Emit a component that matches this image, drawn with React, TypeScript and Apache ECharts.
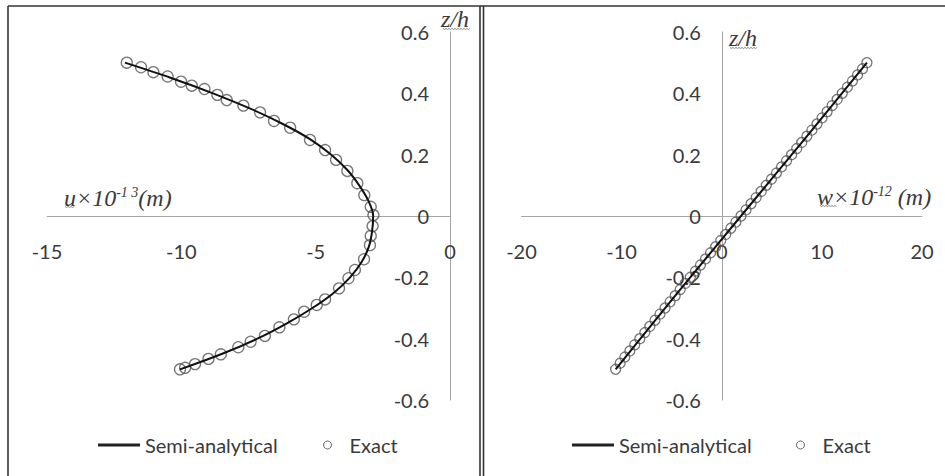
import { useEffect, useRef } from "react";
import * as echarts from "echarts";

// Left panel: in-plane displacement u (×10^-13 m) through the thickness z/h
const uExact = [
  -12.03, -11.5, -11.04, -10.51, -10.01, -9.61, -9.14, -8.66, -8.31, -7.69, -7.07,
  -6.55, -5.95, -5.21, -4.65, -4.24, -3.82, -3.45, -3.19, -2.95, -2.85, -2.88,
  -2.95, -2.98, -3.2, -3.54, -3.78, -4.13, -4.65, -4.96, -5.43, -5.81, -6.35,
  -6.89, -7.42, -7.88, -8.53, -8.99, -9.49, -9.86, -10.05,
];
const zExactU = [
  0.5, 0.485, 0.469, 0.455, 0.438, 0.425, 0.414, 0.395, 0.378, 0.36, 0.338,
  0.31, 0.288, 0.248, 0.215, 0.183, 0.147, 0.107, 0.068, 0.03, 0.003, -0.033,
  -0.065, -0.095, -0.141, -0.176, -0.203, -0.236, -0.272, -0.29, -0.312, -0.337, -0.363,
  -0.391, -0.41, -0.428, -0.451, -0.466, -0.483, -0.495, -0.5,
];
const zLine = [
  0.5, 0.45, 0.4, 0.35, 0.3, 0.25, 0.2, 0.15, 0.1, 0.05, 0,
  -0.05, -0.1, -0.15, -0.2, -0.25, -0.3, -0.35, -0.4, -0.45, -0.5,
];
const uSemi = [
  -12.1, -10.38, -8.82, -7.43, -6.22, -5.2, -4.42, -3.82, -3.38, -3.04, -2.86,
  -2.9, -3.02, -3.29, -3.72, -4.32, -5.12, -6.07, -7.17, -8.5, -10.05,
];

// Right panel: transverse displacement w (×10^-12 m)
const zExactW = [
  -0.5, -0.48, -0.46, -0.44, -0.42, -0.4, -0.38, -0.36, -0.34, -0.32, -0.3,
  -0.28, -0.26, -0.24, -0.22, -0.2, -0.18, -0.16, -0.14, -0.12, -0.1, -0.08,
  -0.06, -0.04, -0.02, 0, 0.02, 0.04, 0.06, 0.08, 0.1, 0.12, 0.14, 0.16, 0.18,
  0.2, 0.22, 0.24, 0.26, 0.28, 0.3, 0.32, 0.34, 0.36, 0.38, 0.4, 0.42, 0.44,
  0.46, 0.48, 0.5,
];
const wExact = [
  -10.6, -10.15, -9.68, -9.18, -8.69, -8.18, -7.68, -7.18, -6.67, -6.17, -5.66,
  -5.16, -4.65, -4.15, -3.64, -3.14, -2.63, -2.13, -1.62, -1.12, -0.61, -0.1,
  0.4, 0.91, 1.41, 1.92, 2.43, 2.93, 3.44, 3.94, 4.45, 4.96, 5.46, 5.97, 6.47,
  6.98, 7.49, 7.99, 8.5, 9.0, 9.51, 10.02, 10.52, 11.03, 11.53, 12.04, 12.55,
  13.05, 13.56, 14.06, 14.5,
];
const zLineW = [-0.5, -0.25, 0, 0.25, 0.5];
const wSemi = [-10.6, -4.4, 1.92, 8.25, 14.5];

const uTicks = { min: -15, max: 0, interval: 5 };
const wTicks = { min: -20, max: 20, interval: 10 };
const zTicks = { min: -0.6, max: 0.6, interval: 0.2 };

const AXIS_COLOR = "#a6a6a6";
const LABEL_COLOR = "#3a3a3a";
const FRAME_COLOR = "#333333";
const SANS = "Lato, 'Open Sans', sans-serif";
const SERIF = "'Liberation Serif', 'Times New Roman', serif";
const LABEL_SIZE = 20;

// plot boxes (px)
const GRID_TOP = 32;
const GRID_H = 368;
const LEFT_GRID = { left: 47, width: 403 };
const RIGHT_GRID = { left: 521.5, width: 400.5 };

const pairs = (xs: number[], ys: number[]) => xs.map((x, i) => [x, ys[i]]);

// spell-check style squiggle under a word
function squiggle(x0: number, x1: number, y: number) {
  const pts: number[][] = [];
  let i = 0;
  for (let x = x0; x <= x1; x += 1.5, i++) pts.push([x, y + (i % 2 ? 1 : -1)]);
  return {
    type: "polyline",
    silent: true,
    shape: { points: pts },
    style: { stroke: "#8c8c8c", lineWidth: 0.8, fill: null },
  };
}

// x axis drawn through z = 0 (middle of the plot box)
function xAxisOpt(gridIndex: number, t: { min: number; max: number; interval: number }) {
  const zeroFromBottom =
    (GRID_H * (0 - zTicks.min)) / (zTicks.max - zTicks.min);
  return {
    type: "value",
    gridIndex,
    position: "bottom",
    offset: -zeroFromBottom,
    min: t.min,
    max: t.max,
    interval: t.interval,
    axisLine: { onZero: false, lineStyle: { color: AXIS_COLOR, width: 1 } },
    axisTick: { show: false },
    splitLine: { show: false },
    axisLabel: { margin: 25, fontSize: LABEL_SIZE, color: LABEL_COLOR, fontFamily: SANS },
  };
}

// y axis drawn through x = 0 of its panel
function yAxisOpt(gridIndex: number, t: { min: number; max: number }, width: number) {
  const zeroFromLeft = (width * (0 - t.min)) / (t.max - t.min);
  return {
    type: "value",
    gridIndex,
    position: "left",
    offset: -zeroFromLeft,
    min: zTicks.min,
    max: zTicks.max,
    interval: zTicks.interval,
    axisLine: { onZero: false, lineStyle: { color: AXIS_COLOR, width: 1 } },
    axisTick: { show: false },
    splitLine: { show: false },
    axisLabel: {
      margin: 21,
      fontSize: LABEL_SIZE,
      color: LABEL_COLOR,
      fontFamily: SANS,
      formatter: (v: number) => String(Math.round(v * 10) / 10),
    },
  };
}

function lineSeries(idx: number, data: number[][]) {
  return {
    name: "Semi-analytical",
    type: "line",
    xAxisIndex: idx,
    yAxisIndex: idx,
    data,
    symbol: "none",
    smooth: 0.35,
    lineStyle: { color: "#111111", width: 2 },
    itemStyle: { color: "#111111" },
    z: 3,
  };
}

function exactSeries(idx: number, data: number[][], size: number) {
  return {
    name: "Exact",
    type: "scatter",
    xAxisIndex: idx,
    yAxisIndex: idx,
    data,
    symbol: "circle",
    symbolSize: size,
    itemStyle: { color: "rgba(0,0,0,0)", borderColor: "#555555", borderWidth: 1.3 },
    z: 2,
  };
}

function legendPair(lineLeft: number, circleLeft: number) {
  const textStyle = { fontSize: LABEL_SIZE, color: LABEL_COLOR, fontFamily: SANS };
  return [
    {
      data: [{ name: "Semi-analytical", icon: "rect" }],
      left: lineLeft,
      top: 435,
      padding: 0,
      itemWidth: 42,
      itemHeight: 3,
      selectedMode: false,
      itemStyle: { color: "#222222" },
      textStyle,
    },
    {
      data: [{ name: "Exact", icon: "circle" }],
      left: circleLeft,
      top: 435,
      padding: 0,
      itemWidth: 8,
      itemHeight: 8,
      selectedMode: false,
      itemStyle: { color: "rgba(0,0,0,0)", borderColor: "#444444", borderWidth: 1 },
      textStyle: { ...textStyle, padding: [0, 0, 0, 13] },
    },
  ];
}

function titleText(x: number, y: number, main: string, sup: string, tail: string) {
  return {
    type: "text",
    x,
    y,
    silent: true,
    style: {
      text: `{b|${main}}{s|${sup}}{b|${tail}}`,
      rich: {
        b: { fontSize: 24, lineHeight: 26, fontStyle: "italic", fontFamily: SERIF, fill: "#3a3a3a" },
        s: { fontSize: 14, lineHeight: 15, fontStyle: "italic", fontFamily: SERIF, fill: "#3a3a3a", verticalAlign: "top" },
      },
    },
  };
}

function zhText(x: number, y: number) {
  return {
    type: "text",
    x,
    y,
    silent: true,
    style: {
      text: "z/h",
      fontSize: 24,
      fontStyle: "italic",
      fontFamily: SERIF,
      fill: "#3a3a3a",
    },
  };
}

function frameLine(x1: number, y1: number, x2: number, y2: number) {
  return {
    type: "line",
    silent: true,
    shape: { x1, y1, x2, y2 },
    style: { stroke: FRAME_COLOR, lineWidth: 1.6 },
  };
}

export default function App() {
  const ref = useRef<HTMLDivElement>(null);

  useEffect(() => {
    if (!ref.current) return;
    const chart = echarts.init(ref.current, null, { renderer: "svg" });
    chart.setOption({
      animation: false,
      backgroundColor: "#ffffff",
      grid: [
        { left: LEFT_GRID.left, top: GRID_TOP, width: LEFT_GRID.width, height: GRID_H },
        { left: RIGHT_GRID.left, top: GRID_TOP, width: RIGHT_GRID.width, height: GRID_H },
      ],
      xAxis: [xAxisOpt(0, uTicks), xAxisOpt(1, wTicks)],
      yAxis: [yAxisOpt(0, uTicks, LEFT_GRID.width), yAxisOpt(1, wTicks, RIGHT_GRID.width)],
      legend: [...legendPair(98, 323), ...legendPair(572, 796)],
      series: [
        exactSeries(0, pairs(uExact, zExactU), 11),
        lineSeries(0, pairs(uSemi, zLine)),
        exactSeries(1, pairs(wExact, zExactW), 10),
        lineSeries(1, pairs(wSemi, zLineW)),
      ],
      graphic: [
        frameLine(8, 6, 945, 6),
        frameLine(8, 6, 8, 476),
        frameLine(480, 6, 480, 476),
        frameLine(483.5, 6, 483.5, 476),
        titleText(64, 185, "u×10", "-1 3", "(m)"),
        titleText(817, 184, "w×10", "-12", " (m)"),
        zhText(441, 7),
        zhText(729, 26),
        squiggle(443, 470, 29),
        squiggle(730, 757, 48),
        squiggle(65, 75, 207),
        squiggle(820, 837, 206),
      ],
    });
    return () => chart.dispose();
  }, []);

  return (
    <div
      ref={ref}
      style={{ position: "fixed", left: 0, top: 0, width: 945, height: 476, background: "#fff" }}
    />
  );
}
